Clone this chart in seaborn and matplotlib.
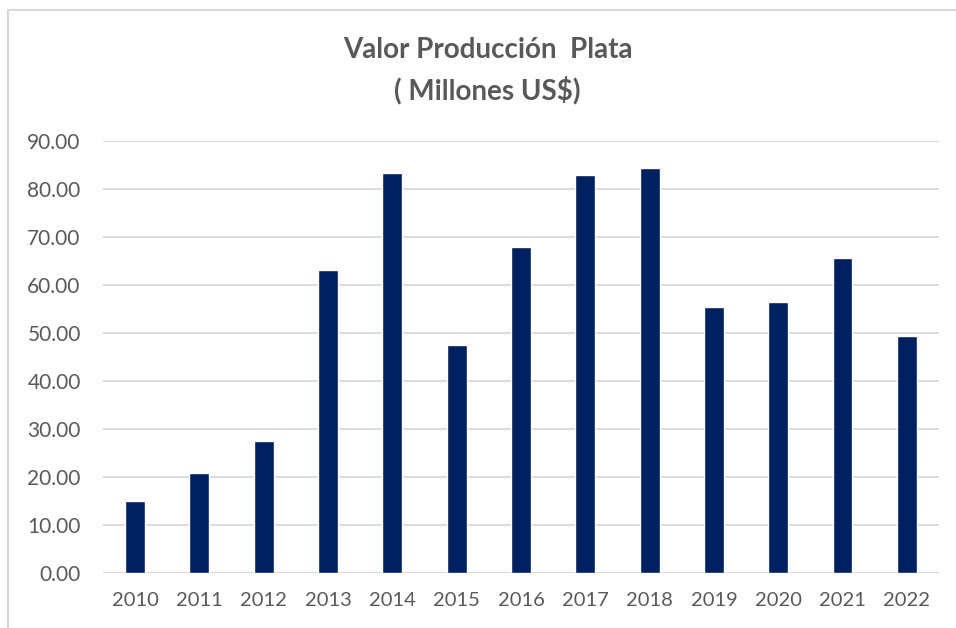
import matplotlib
matplotlib.use("Agg")
import matplotlib.pyplot as plt
import seaborn as sns
import pandas as pd
from matplotlib.patches import Rectangle

years = ['2010', '2011', '2012', '2013', '2014', '2015', '2016',
         '2017', '2018', '2019', '2020', '2021', '2022']
valor = [15.1, 20.9, 27.6, 63.1, 83.4, 47.6, 67.9,
         82.9, 84.4, 55.4, 56.5, 65.6, 49.4]
yticks = [0, 10, 20, 30, 40, 50, 60, 70, 80, 90]

df = pd.DataFrame({'Año': years, 'Valor': valor})

sns.set_style('white')
plt.rcParams['font.family'] = ['Lato', 'DejaVu Sans']

fig = plt.figure(figsize=(9.56, 6.28), dpi=100)
ax = fig.add_axes([0.1077, 0.0876, 0.8745, 0.6879])

sns.barplot(data=df, x='Año', y='Valor', color='#002060', width=0.31,
            saturation=1, ax=ax, zorder=3)

ax.set_ylim(0, 90)
ax.set_xlim(-0.5, len(years) - 0.5)
ax.set_yticks(yticks)
ax.set_yticklabels([f'{v:.2f}' for v in yticks])
ax.yaxis.grid(True, color='#d9d9d9', linewidth=1.3, zorder=0)
ax.set_axisbelow(True)
for s in ax.spines.values():
    s.set_visible(False)
ax.axhline(0, color='#d9d9d9', linewidth=1.3, zorder=1)
ax.tick_params(axis='both', length=0, colors='#595959')
ax.tick_params(axis='y', pad=16, labelsize=15)
ax.tick_params(axis='x', pad=14, labelsize=14.5)
ax.set_xlabel('')
ax.set_ylabel('')

fig.text(0.51, 0.92, 'Valor Producción  Plata', ha='center', va='center',
         fontsize=20, fontweight='bold', color='#595959')
fig.text(0.51, 0.856, '( Millones US$)', ha='center', va='center',
         fontsize=20, fontweight='bold', color='#595959')

fig.patches.append(Rectangle((8 / 956, -0.05), 1.2, 1 - 10 / 628 + 0.05,
                             transform=fig.transFigure, fill=False,
                             edgecolor='#d9d9d9', linewidth=1.5))

fig.savefig('out.png', dpi=100, facecolor='white')
